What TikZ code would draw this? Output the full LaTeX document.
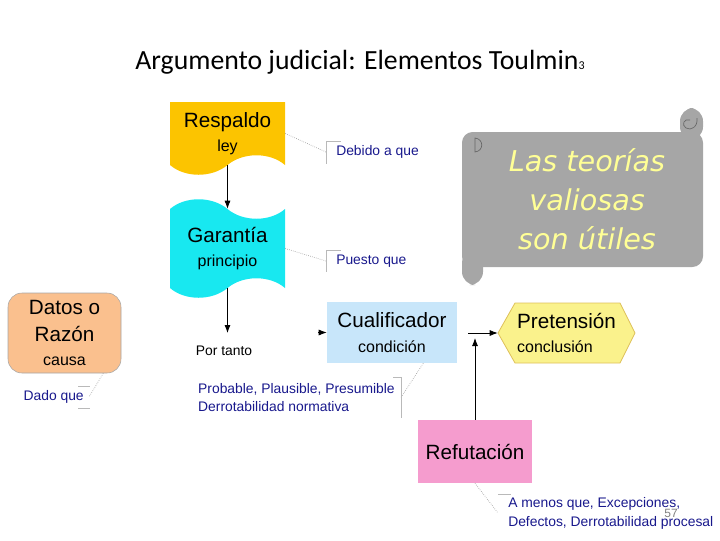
\documentclass[tikz,border=0pt]{standalone}
\usepackage{fontspec}
\setmainfont{Liberation Sans}
\newfontfamily\titlefont{Carlito}
\newfontfamily\scrollfont{DejaVu Sans}
\usepackage{xcolor}
\usetikzlibrary{arrows.meta,positioning,calc}
\definecolor{respgold}{RGB}{252,196,0}
\definecolor{garcyan}{RGB}{24,232,240}
\definecolor{datospeach}{RGB}{250,192,142}
\definecolor{cualblue}{RGB}{200,230,250}
\definecolor{pretyellow}{RGB}{250,242,140}
\definecolor{pretedge}{RGB}{222,192,90}
\definecolor{refupink}{RGB}{245,156,206}
\definecolor{scrollgray}{RGB}{166,166,166}
\definecolor{scrolltext}{RGB}{255,255,150}
\definecolor{labelnavy}{RGB}{24,24,140}
\newcommand{\elemname}[1]{{\fontsize{15.5}{18.5}\selectfont #1}}
\newcommand{\elemkind}[1]{{\fontsize{12}{18.5}\selectfont #1}}

\begin{document}
\begin{tikzpicture}[
  x=0.75pt, y=-0.75pt,
  elem/.style={align=center, inner sep=0pt, font=\fontsize{12}{18.5}\selectfont},
  reason/.style={font=\fontsize{10.4}{14.2}\selectfont, text=labelnavy, align=left},
  callout/.style={draw=gray!75, densely dotted, line width=0.5pt},
  bracket/.style={draw=gray!55, line width=0.5pt},
  curlline/.style={draw=black!60, line width=0.5pt},
  arr/.style={-{Latex[length=6pt,width=4.5pt]}, line width=0.6pt}
]
\useasboundingbox (0,0) rectangle (720,540);

% title
\node[font=\titlefont\fontsize{20.8}{24}\selectfont] (title) at (360,62)
  {Argumento judicial: Elementos Toulmin{\fontsize{9}{10}\selectfont 3}};

% scroll in the corner
\fill[scrollgray, rounded corners=8] (462,132) rectangle (703,267);
\fill[scrollgray, rounded corners=10] (680,108) rectangle (703,140);
\fill[scrollgray, rounded corners=10] (462,250) rectangle (483,285);
\draw[curlline] (475,138) .. controls (484,139) and (484,151) .. (475,152) -- cycle;
\draw[curlline] (697,118) .. controls (698,127) and (691,131) .. (686,128)
  .. controls (681,125) and (684,118) .. (690,120);
\node[font=\scrollfont\itshape\fontsize{21.5}{29.25}\selectfont, text=scrolltext,
  align=center] (motto) at (587,199) {Las teorías\\valiosas\\son útiles};

% wavy shapes
\fill[respgold] (170,102) -- (285,102) -- (285,165)
  .. controls (270,152) and (243,152) .. (227.5,165)
  .. controls (212,178) and (185,178) .. (170,165) -- cycle;
\fill[garcyan] (170,209) .. controls (185,196) and (212,196) .. (227.5,209)
  .. controls (243,222) and (270,222) .. (285,209) -- (285,288)
  .. controls (270,275) and (243,275) .. (227.5,288)
  .. controls (212,301) and (185,301) .. (170,288) -- cycle;
\fill[pretyellow, draw=pretedge, line width=0.6pt] (498,333) -- (515,303) -- (620,303)
  -- (635,333) -- (620,363) -- (515,363) -- cycle;

% elements
\node[elem, minimum width=86.25pt, minimum height=47.25pt] (resp) at (227.5,133.5)
  {\elemname{Respaldo}\\\elemkind{ley}};
\node[elem, minimum width=86.25pt, minimum height=59.25pt] (gar) at (227.5,248.5)
  {\elemname{Garantía}\\\elemkind{principio}};
\node[elem, draw=gray!70, fill=datospeach, rounded corners=10.5pt,
  minimum width=84.75pt, minimum height=60pt] (datos) at (64.5,333)
  {\elemname{Datos o}\\[1.5pt]\elemname{Razón}\\\elemkind{causa}};
\node[elem, fill=cualblue, minimum width=97.5pt, minimum height=45.75pt] (cual) at (392,332.5)
  {\elemname{Cualificador}\\\elemkind{condición}};
\node[elem, align=left, minimum width=102.75pt, minimum height=45pt] (prete) at (566.5,333)
  {\elemname{Pretensión}\\\elemkind{conclusión}};
\node[elem, fill=refupink, minimum width=85.5pt, minimum height=47.25pt] (refu) at (475,451.5)
  {\elemname{Refutación}};

% connectors
\coordinate (ptip) at (227.5,333);
\coordinate (qstart) at (318,332.5);
\coordinate (hstart) at (468,333);
\coordinate (vtip) at (475,338);
\node[font=\fontsize{10.4}{12}\selectfont] (portanto) at (224,351) {Por tanto};
\draw[arr] (resp) -- (gar);
\draw[arr] (gar.south) -- (ptip);
\draw[arr] (qstart) -- (cual.west);
\draw[arr] (hstart) -- (prete.west);
\draw[arr] (refu.north) -- (vtip);

% reasons
\node[reason, anchor=west, inner xsep=7.5pt] (debido) at (326,152) {Debido a que};
\draw[callout] (resp.east) -- (debido.west);
\draw[bracket] ($(debido.west)+(15,-11)$) -- ($(debido.west)+(0,-11)$) -- ($(debido.west)+(0,12)$);

\node[reason, anchor=west, inner xsep=7.5pt] (puesto) at (326,261) {Puesto que};
\draw[callout] (gar.east) -- (puesto.west);
\draw[bracket] ($(puesto.west)+(15,-11)$) -- ($(puesto.west)+(0,-11)$) -- ($(puesto.west)+(0,11)$);

\node[reason, anchor=east, inner xsep=3.75pt] (dado) at (89,397) {Dado que};
\draw[callout] ($(datos.south east)+(-18,0)$) -- (dado.east);
\draw[bracket] ($(dado.east)+(-11,-11)$) -- ($(dado.east)+(1,-11)$);
\draw[bracket] ($(dado.east)+(-11,11)$) -- ($(dado.east)+(1,11)$);

\node[reason, anchor=east, inner xsep=4.5pt] (probable) at (401,397.5)
  {Probable, Plausible, Presumible\\Derrotabilidad normativa};
\draw[callout] ($(cual.south east)+(-34,0)$) -- (probable.east);
\draw[bracket] ($(probable.east)+(-8,-20)$) -- ($(probable.east)+(0,-20)$) -- ($(probable.east)+(0,20)$);

\node[reason, anchor=west, inner xsep=7.5pt] (amenos) at (498,513)
  {A menos que, Excepciones,\\Defectos, Derrotabilidad procesal};
\draw[callout] (refu.south) -- (amenos.west);
\draw[bracket] ($(amenos.west)+(0,-19)$) -- ($(amenos.west)+(13,-19)$);

\node[font=\fontsize{9}{10}\selectfont, text=gray] (pagenum) at (671,513) {57};
\end{tikzpicture}
\end{document}
